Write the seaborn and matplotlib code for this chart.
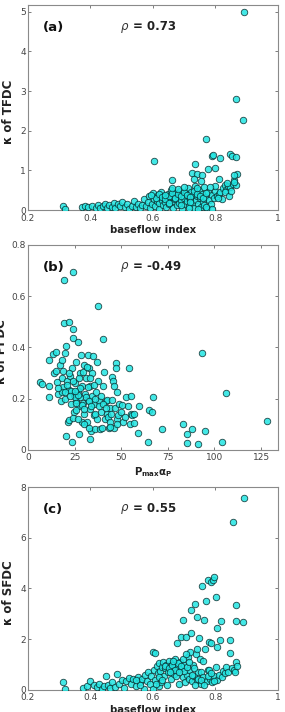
import matplotlib
matplotlib.use("Agg")
import matplotlib.pyplot as plt
import seaborn as sns
import pandas as pd

sns.set_style("ticks")
plt.rcParams['font.family'] = ['DejaVu Sans']
plt.rcParams['mathtext.fontset'] = 'dejavusans'

# ---------------- data ----------------
bfi_a = [0.313, 0.318, 0.374, 0.383, 0.393, 0.405, 0.418, 0.425, 0.432, 0.440, 0.447, 0.452, 0.460, 0.468,
         0.475, 0.480, 0.488, 0.495, 0.502, 0.510, 0.518, 0.525, 0.532, 0.540, 0.547, 0.553, 0.560, 0.566,
         0.572, 0.578, 0.583, 0.588, 0.592, 0.597, 0.601, 0.604, 0.608, 0.612, 0.615, 0.618, 0.621, 0.624,
         0.627, 0.630, 0.633, 0.636, 0.639, 0.642, 0.645, 0.648, 0.651, 0.654, 0.657, 0.660, 0.663, 0.666,
         0.669, 0.672, 0.675, 0.678, 0.681, 0.684, 0.687, 0.690, 0.693, 0.696, 0.699, 0.702, 0.705, 0.708,
         0.711, 0.714, 0.717, 0.720, 0.723, 0.726, 0.729, 0.732, 0.735, 0.738, 0.741, 0.744, 0.747, 0.750,
         0.753, 0.756, 0.759, 0.762, 0.765, 0.768, 0.772, 0.776, 0.780, 0.785, 0.790, 0.795, 0.800, 0.805,
         0.810, 0.815, 0.820, 0.825, 0.830, 0.835, 0.840, 0.848, 0.855, 0.860, 0.865, 0.870,
         0.610, 0.620, 0.630, 0.640, 0.650, 0.660, 0.670, 0.680, 0.690, 0.700, 0.710, 0.720, 0.730, 0.740,
         0.750, 0.760, 0.770, 0.680, 0.700, 0.660, 0.720, 0.650, 0.740, 0.690, 0.715, 0.745, 0.640, 0.770,
         0.790, 0.595,
         0.890, 0.867, 0.888, 0.770, 0.602, 0.788, 0.791, 0.815, 0.847, 0.853, 0.866, 0.736, 0.799, 0.775,
         0.861, 0.724, 0.742, 0.757, 0.662, 0.812, 0.837, 0.860, 0.730, 0.755, 0.800, 0.782, 0.830, 0.845,
         0.808, 0.850]
kappa_tfdc = [0.10, 0.03, 0.08, 0.10, 0.07, 0.11, 0.06, 0.13, 0.05, 0.09, 0.16, 0.04, 0.12, 0.08,
              0.19, 0.05, 0.14, 0.10, 0.20, 0.07, 0.15, 0.03, 0.11, 0.22, 0.08, 0.16, 0.04, 0.13,
              0.27, 0.09, 0.20, 0.35, 0.05, 0.15, 0.42, 0.28, 0.10, 0.22, 0.38, 0.03, 0.17, 0.32,
              0.45, 0.25, 0.12, 0.36, 0.20, 0.08, 0.30, 0.41, 0.15, 0.26, 0.50, 0.34, 0.06, 0.22,
              0.38, 0.28, 0.44, 0.12, 0.33, 0.19, 0.48, 0.25, 0.02, 0.37, 0.30, 0.15, 0.42, 0.22,
              0.55, 0.33, 0.09, 0.28, 0.45, 0.18, 0.38, 0.05, 0.60, 0.25, 0.35, 0.14, 0.50, 0.30,
              0.08, 0.40, 0.20, 0.57, 0.12, 0.33, 0.03, 0.46, 0.25, 0.15, 0.38, 0.30, 0.48, 0.35,
              0.40, 0.45, 0.28, 0.55, 0.62, 0.50, 0.60, 0.58, 0.65, 0.75, 0.63, 0.92,
              0.30, 0.40, 0.33, 0.27, 0.35, 0.42, 0.31, 0.40, 0.35, 0.45, 0.38, 0.32, 0.48, 0.40,
              0.36, 0.30, 0.42, 0.52, 0.58, 0.55, 0.20, 0.18, 0.55, 0.12, 0.05, 0.02, 0.38, 0.07,
              0.02, 0.38,
              5.00, 2.80, 2.28, 1.80, 1.23, 1.35, 1.38, 1.30, 1.42, 1.36, 1.34, 1.17, 1.07, 1.04,
              0.89, 0.93, 0.90, 0.88, 0.76, 0.77, 0.68, 0.70, 0.77, 0.72, 0.60, 0.58, 0.45, 0.35,
              0.30, 0.48]

pmax_alpha = [6.6, 7.4, 11.5, 13.3, 15.1, 11.2, 11.2, 14.0, 15.5, 16.2, 17.0, 17.5, 18.2, 18.8, 19.0, 19.5,
              19.1, 19.8, 20.4, 20.4, 20.8, 21.3, 21.8, 22.0, 22.2, 22.5, 23.0, 23.6, 23.8, 24.3, 24.3, 24.3,
              24.5, 24.8, 25.2, 25.6, 26.0, 26.6, 26.8, 27.2, 27.5, 27.8, 28.0, 28.5, 28.8, 29.2, 29.5, 30.0,
              30.3, 30.8, 31.2, 31.5, 32.0, 32.4, 32.8, 33.2, 33.2, 33.5, 34.0, 34.2, 34.6, 35.0, 35.3, 35.6,
              36.0, 36.4, 36.8, 37.2, 37.6, 37.8, 38.2, 38.6, 39.0, 39.4, 39.9, 40.2, 40.5, 41.0, 41.4, 41.8,
              42.2, 42.6, 43.0, 43.4, 43.8, 44.2, 44.6, 45.2, 45.6, 46.1, 46.2, 46.6, 47.0, 47.3, 47.6, 48.0,
              48.5, 49.0, 50.0, 51.0, 52.0, 52.8, 53.4, 54.1, 54.5, 55.0, 56.0, 57.0, 59.0, 59.4, 64.4, 64.7,
              66.5, 67.0, 71.8, 83.3, 85.2, 85.5, 87.8, 91.0, 93.3, 94.9, 104.1, 106.4, 128.2,
              21.0, 23.0, 25.0, 26.0, 27.0, 24.0, 22.0, 29.0, 31.0, 33.0, 30.0, 28.0, 26.0, 32.0, 34.0, 36.0,
              38.0, 40.0, 18.0, 16.0, 20.0, 22.5, 25.5, 27.5, 29.5, 31.5, 33.5, 35.5, 18.5, 20.0, 15.0, 24.0,
              27.0, 30.0, 33.0, 36.0, 45.0, 42.0, 50.5, 55.5, 57.0, 48.0, 44.0]
kappa_pfdc = [0.267, 0.258, 0.351, 0.375, 0.384, 0.248, 0.205, 0.300, 0.265, 0.220, 0.330, 0.190, 0.280, 0.245,
              0.310, 0.663, 0.494, 0.200, 0.407, 0.056, 0.270, 0.111, 0.498, 0.235, 0.117, 0.290, 0.180, 0.031,
              0.320, 0.696, 0.471, 0.436, 0.215, 0.150, 0.260, 0.195, 0.345, 0.420, 0.230, 0.170, 0.061, 0.300,
              0.205, 0.370, 0.110, 0.250, 0.185, 0.330, 0.140, 0.220, 0.280, 0.110, 0.195, 0.370, 0.320, 0.042,
              0.160, 0.250, 0.075, 0.210, 0.300, 0.365, 0.135, 0.180, 0.080, 0.225, 0.345, 0.120, 0.562, 0.270,
              0.190, 0.080, 0.210, 0.150, 0.085, 0.432, 0.250, 0.305, 0.120, 0.190, 0.140, 0.195, 0.130, 0.085,
              0.165, 0.110, 0.140, 0.286, 0.270, 0.085, 0.250, 0.165, 0.338, 0.319, 0.225, 0.120, 0.135, 0.180,
              0.150, 0.110, 0.130, 0.208, 0.170, 0.319, 0.100, 0.140, 0.135, 0.105, 0.068, 0.172, 0.030, 0.155,
              0.150, 0.206, 0.081, 0.100, 0.029, 0.064, 0.081, 0.023, 0.380, 0.075, 0.033, 0.224, 0.113,
              0.255, 0.230, 0.205, 0.185, 0.215, 0.270, 0.300, 0.175, 0.205, 0.190, 0.160, 0.240, 0.155, 0.245,
              0.170, 0.200, 0.170, 0.180, 0.225, 0.240, 0.225, 0.210, 0.230, 0.280, 0.305, 0.325, 0.280, 0.255,
              0.350, 0.380, 0.310, 0.125, 0.120, 0.100, 0.085, 0.140, 0.195, 0.165, 0.175, 0.210, 0.140, 0.100,
              0.090]

bfi_c = [0.313, 0.319, 0.377, 0.388, 0.399, 0.410, 0.420, 0.428, 0.436, 0.444, 0.450, 0.455, 0.462, 0.470,
         0.478, 0.485, 0.492, 0.500, 0.508, 0.515, 0.522, 0.530, 0.537, 0.545, 0.552, 0.558, 0.565, 0.570,
         0.575, 0.580, 0.585, 0.590, 0.595, 0.600, 0.603, 0.606, 0.608, 0.612, 0.615, 0.618, 0.621, 0.624,
         0.627, 0.630, 0.633, 0.636, 0.639, 0.642, 0.645, 0.648, 0.651, 0.654, 0.657, 0.660, 0.663, 0.666,
         0.669, 0.672, 0.676, 0.678, 0.681, 0.684, 0.687, 0.689, 0.692, 0.695, 0.697, 0.700, 0.703, 0.705,
         0.708, 0.711, 0.714, 0.717, 0.720, 0.723, 0.723, 0.726, 0.729, 0.732, 0.734, 0.737, 0.740, 0.742,
         0.745, 0.747, 0.750, 0.753, 0.755, 0.757, 0.760, 0.764, 0.767, 0.770, 0.772, 0.775, 0.777, 0.780,
         0.780, 0.783, 0.785, 0.785, 0.788, 0.791, 0.794, 0.797, 0.801, 0.801, 0.804, 0.806, 0.806, 0.810,
         0.815, 0.817, 0.820, 0.825, 0.830, 0.834, 0.840, 0.846, 0.848, 0.852, 0.855, 0.858, 0.862, 0.865,
         0.867, 0.867, 0.870, 0.888, 0.890,
         0.640, 0.650, 0.660, 0.670, 0.680, 0.690, 0.700, 0.710, 0.655, 0.665, 0.675, 0.685, 0.695, 0.705,
         0.715, 0.725, 0.735, 0.745, 0.755, 0.765, 0.775, 0.785, 0.795, 0.730, 0.740, 0.760, 0.620, 0.630,
         0.600, 0.610, 0.560, 0.545]
kappa_sfdc = [0.30, 0.02, 0.07, 0.14, 0.37, 0.18, 0.10, 0.25, 0.05, 0.15, 0.55, 0.20, 0.08, 0.30,
              0.12, 0.63, 0.22, 0.40, 0.06, 0.35, 0.48, 0.25, 0.42, 0.15, 0.50, 0.30, 0.45, 0.05,
              0.60, 0.35, 0.72, 0.22, 0.55, 1.51, 0.80, 0.40, 1.44, 0.95, 0.65, 0.15, 1.05, 0.75,
              0.30, 0.90, 1.10, 0.55, 0.85, 1.00, 0.20, 0.70, 1.15, 0.95, 0.45, 0.80, 1.05, 0.62,
              0.90, 1.20, 1.84, 0.75, 0.95, 0.25, 1.10, 2.10, 0.85, 0.50, 2.75, 1.00, 0.30, 2.10,
              0.60, 1.30, 0.45, 0.80, 1.50, 2.23, 3.15, 0.35, 1.00, 0.55, 3.37, 1.40, 0.40, 2.89,
              0.70, 2.03, 1.20, 0.72, 0.25, 4.09, 0.50, 2.75, 1.60, 3.51, 0.35, 0.80, 4.33, 1.90,
              0.79, 0.45, 4.26, 1.86, 0.30, 4.33, 4.46, 0.55, 3.67, 0.92, 0.40, 2.43, 1.71, 0.60,
              1.97, 2.73, 0.50, 0.75, 0.65, 0.92, 0.70, 1.44, 1.97, 0.85, 6.62, 0.80, 0.70, 1.12,
              3.34, 2.71, 0.95, 2.69, 7.58,
              0.95, 0.88, 1.00, 0.80, 1.05, 0.95, 0.75, 0.90, 0.70, 1.15, 0.55, 0.70, 1.20, 1.40,
              1.10, 0.60, 0.20, 0.45, 0.38, 0.20, 0.55, 0.65, 0.35, 0.85, 1.60, 1.15, 0.50, 0.40,
              0.05, 0.25, 0.20, 0.40]

panels = [
    dict(x=bfi_a, y=kappa_tfdc, tag="(a)", rho="0.73", xlabel="baseflow index",
         ylabel="κ of TFDC", xlim=(0.2, 1.0), ylim=(0, 5.17),
         xticks=[0.2, 0.4, 0.6, 0.8, 1.0], xtl=["0.2", "0.4", "0.6", "0.8", "1"],
         yticks=[0, 1, 2, 3, 4, 5], ytl=["0", "1", "2", "3", "4", "5"],
         rect=[0.098, 0.705, 0.877, 0.288], ylx=-0.052),
    dict(x=pmax_alpha, y=kappa_pfdc, tag="(b)", rho="-0.49",
         xlabel=r"$\mathbf{P_{max}\alpha_P}$",
         ylabel="κ of PFDC", xlim=(0, 134), ylim=(0, 0.8),
         xticks=[0, 25, 50, 75, 100, 125], xtl=["0", "25", "50", "75", "100", "125"],
         yticks=[0, 0.2, 0.4, 0.6, 0.8], ytl=["0", "0.2", "0.4", "0.6", "0.8"],
         rect=[0.098, 0.368, 0.877, 0.288], ylx=-0.08),
    dict(x=bfi_c, y=kappa_sfdc, tag="(c)", rho="0.55", xlabel="baseflow index",
         ylabel="κ of SFDC", xlim=(0.2, 1.0), ylim=(0, 8),
         xticks=[0.2, 0.4, 0.6, 0.8, 1.0], xtl=["0.2", "0.4", "0.6", "0.8", "1"],
         yticks=[0, 2, 4, 6, 8], ytl=["0", "2", "4", "6", "8"],
         rect=[0.098, 0.031, 0.877, 0.285], ylx=-0.052),
]

fig = plt.figure(figsize=(2.85, 7.12), dpi=100)
for p in panels:
    ax = fig.add_axes(p["rect"])
    df = pd.DataFrame({"x": p["x"], "y": p["y"]})
    sns.scatterplot(data=df, x="x", y="y", ax=ax, s=22, color="#22e5e2",
                    edgecolor="#0a2a2a", linewidth=0.6, alpha=0.85, zorder=3, clip_on=True)
    ax.set_xlim(*p["xlim"])
    ax.set_ylim(*p["ylim"])
    ax.set_xticks(p["xticks"])
    ax.set_xticklabels(p["xtl"])
    ax.set_yticks(p["yticks"])
    ax.set_yticklabels(p["ytl"])
    ax.tick_params(direction="in", length=2.5, width=0.6, top=True, right=True,
                   labelsize=6.5, colors="#666666", labelcolor="#444444")
    ax.tick_params(axis="x", pad=2.5)
    ax.tick_params(axis="y", pad=1.5)
    for sp in ax.spines.values():
        sp.set_visible(True)
        sp.set_color("#8a8a8a")
        sp.set_linewidth(0.8)
    ax.set_xlabel(p["xlabel"], fontsize=7.3, fontweight="bold", labelpad=2, color="#222222")
    ax.set_ylabel(p["ylabel"], fontsize=8.5, fontweight="bold", color="#222222")
    ax.yaxis.set_label_coords(p["ylx"], 0.48)
    ax.text(0.06, 0.89, p["tag"], transform=ax.transAxes, fontsize=9.5,
            fontweight="bold", va="center", ha="left", color="#111111")
    ax.text(0.37, 0.89, r"$\rho$", transform=ax.transAxes, fontsize=8.5,
            va="center", ha="left", color="#333333")
    ax.text(0.42, 0.895, "= " + p["rho"], transform=ax.transAxes, fontsize=8.5,
            fontweight="bold", va="center", ha="left", color="#222222")

fig.savefig("out.png", dpi=100)
